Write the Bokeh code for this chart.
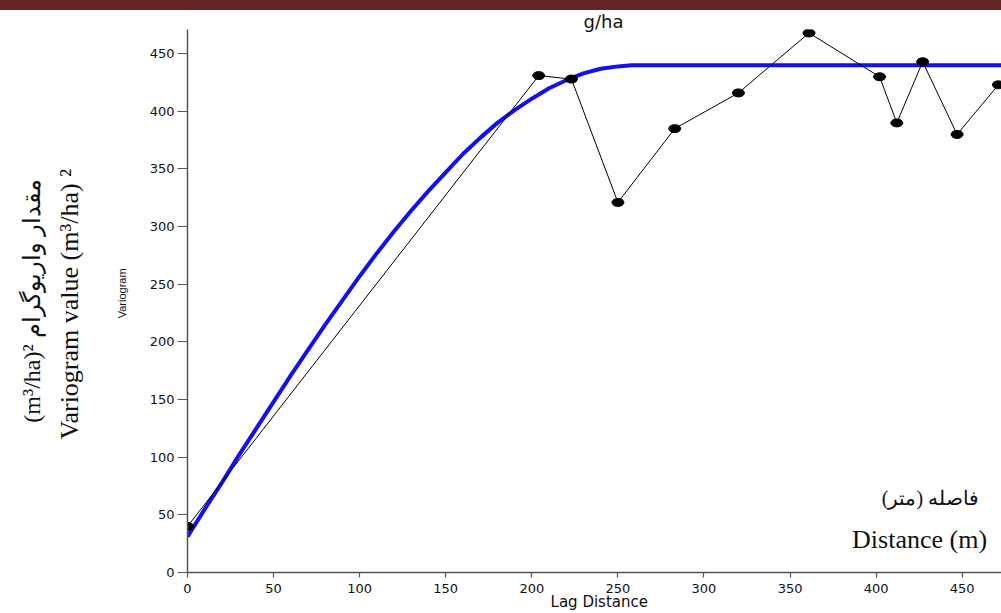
from bokeh.plotting import figure
from bokeh.models import Label, Range1d, FixedTicker, LinearAxis
from bokeh.layouts import column
from bokeh.embed import file_html
from bokeh.resources import INLINE

# experimental variogram (lag distance, semivariance)
lag = [0, 204, 223, 250, 283, 320, 361, 402, 412, 427, 447, 471]
gamma = [40, 431, 428, 321, 385, 416, 468, 430, 390, 443, 380, 423]

# fitted model curve
model_h = [0, 10, 20, 30, 40, 50, 60, 70, 80, 90, 100, 110, 120, 130, 140,
           150, 160, 170, 180, 190, 200, 210, 220, 230, 240, 250, 258, 480]
model_g = [31, 55, 78, 102, 125, 148, 171, 193, 215, 236, 257, 277, 296, 314,
           331, 347, 363, 377, 390, 401, 411, 420, 427, 433, 437, 439, 440, 440]

x_ticks = [0, 50, 100, 150, 200, 250, 300, 350, 400, 450]
y_ticks = [0, 50, 100, 150, 200, 250, 300, 350, 400, 450]

title_text = "g/ha"
x_label = "\u00a0\u00a0Lag Distance"
y_label = "\u00a0\u00a0\u00a0\u00a0\u00a0Variogram"
fa_y_label = "(m\u00b3/ha)\u00b2 \u0645\u0642\u062f\u0627\u0631 \u0648\u0627\u0631\u06cc\u0648\u06af\u0631\u0627\u0645"
en_y_label = "Variogram value (m\u00b3/ha) \u00b2\u00a0"
fa_x_label = "\u0641\u0627\u0635\u0644\u0647 (\u0645\u062a\u0631)"
en_x_label = "Distance (m)"

W = 1001
BAR_H = 10
H = 613 - BAR_H
XMAX, YMAX = 472.8, 471.0
DARK_RED = "#632523"

# dark-red band across the top of the page
bar = figure(width=W, height=BAR_H, output_backend="svg", toolbar_location=None,
             min_border=0, x_axis_type=None, y_axis_type=None,
             x_range=Range1d(0, 1), y_range=Range1d(0, 1))
bar.border_fill_color = DARK_RED
bar.background_fill_color = DARK_RED
bar.outline_line_color = None
bar.grid.visible = False
bar.styles = {"background-color": DARK_RED}
bar.quad(left=[0], right=[1], bottom=[0], top=[1], fill_color=DARK_RED,
         line_color=DARK_RED)

p = figure(width=W, height=H, output_backend="svg", toolbar_location=None,
           x_range=Range1d(0, XMAX), y_range=Range1d(0, YMAX),
           min_border_left=187, min_border_right=0, min_border_top=0,
           min_border_bottom=0)
p.outline_line_color = None
p.grid.visible = False
p.background_fill_color = "white"
p.border_fill_color = "white"

p.title.text = title_text
p.title.text_font = "DejaVu Sans"
p.title.text_font_size = "18px"
p.title.text_font_style = "normal"
p.title.text_color = "#111111"
p.title.align = "left"
p.title.offset = 396
p.title.standoff = -4

for ax in (p.xaxis[0], p.yaxis[0]):
    ax.axis_line_color = "#555555"
    ax.axis_line_width = 1.5
    ax.major_tick_line_color = "#555555"
    ax.major_tick_line_width = 1.2
    ax.minor_tick_line_color = None
    ax.major_tick_in = 0
    ax.major_label_text_font = "DejaVu Sans"
    ax.major_label_text_font_size = "13px"
    ax.major_label_text_color = "#111111"
    ax.axis_label_text_font_style = "normal"
    ax.axis_label_text_color = "#111111"

p.xaxis.ticker = FixedTicker(ticks=x_ticks)
p.yaxis.ticker = FixedTicker(ticks=y_ticks)
p.xaxis.major_tick_out = 5
p.xaxis.major_label_standoff = 6
p.xaxis.axis_label = x_label
p.xaxis.axis_label_text_font = "DejaVu Sans"
p.xaxis.axis_label_text_font_size = "15px"
p.xaxis.axis_label_standoff = -3

p.yaxis.major_tick_out = 10
p.yaxis.major_label_standoff = 3
p.yaxis.axis_label = y_label
p.yaxis.axis_label_text_font = "Liberation Sans"
p.yaxis.axis_label_text_font_size = "11px"
p.yaxis.axis_label_standoff = 19


def label_axis(text, font, size, standoff):
    ax = LinearAxis(ticker=FixedTicker(ticks=[]), axis_label=text,
                    axis_line_color=None, major_tick_line_color=None,
                    minor_tick_line_color=None, major_tick_out=0,
                    major_tick_in=0, major_label_standoff=0,
                    axis_label_standoff=standoff,
                    axis_label_text_font=font,
                    axis_label_text_font_size=size,
                    axis_label_text_font_style="normal",
                    axis_label_text_color="#111111")
    p.add_layout(ax, "left")


label_axis(en_y_label, "Liberation Serif", "26px", 29)
label_axis(fa_y_label, "Liberation Serif", "24px", 7)

# model curve
p.line(model_h, model_g, line_color="#1010f0", line_width=4)
# experimental variogram
p.line(lag, gamma, line_color="black", line_width=1)
p.ellipse(lag, gamma, width=12, height=8, width_units="screen",
          height_units="screen", fill_color="black", line_color="black")

p.add_layout(Label(x=431.5, y=64.7, text=fa_x_label, text_align="center",
                   text_baseline="middle", text_font="Liberation Serif",
                   text_font_size="20px", text_color="#111111"))
p.add_layout(Label(x=425.2, y=28.3, text=en_x_label, text_align="center",
                   text_baseline="middle", text_font="Liberation Serif",
                   text_font_size="26px", text_color="#111111"))

layout = column(bar, p, spacing=0)
open("out.html", "w").write(file_html(layout, INLINE))
